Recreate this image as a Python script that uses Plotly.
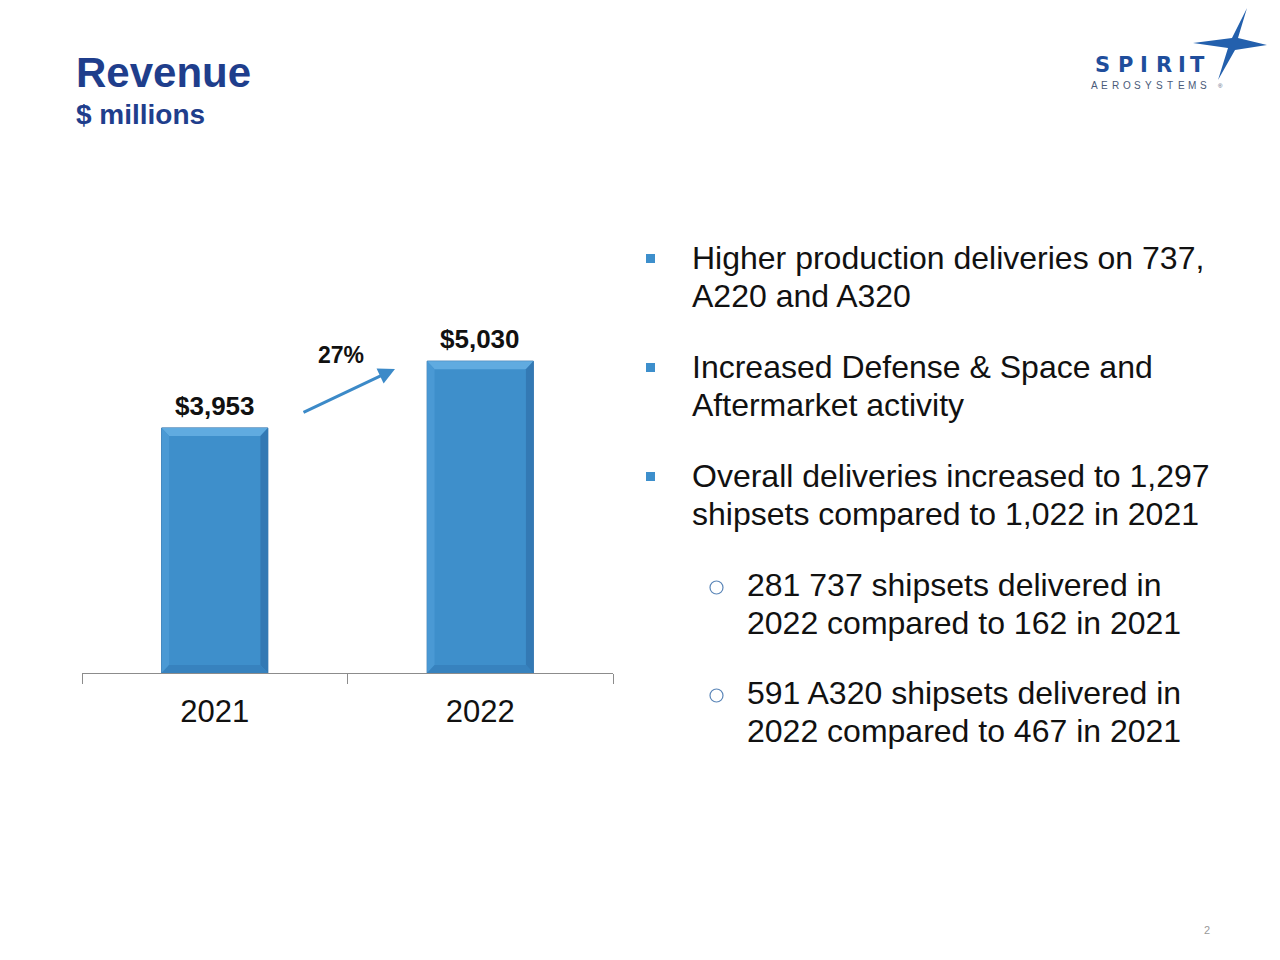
import plotly.graph_objects as go

# ---- data ----
years = ["2021", "2022"]
revenue = [3953, 5030]
revenue_labels = ["$3,953", "$5,030"]
growth_label = "27%"
title_text = "Revenue"
subtitle_text = "$ millions"
main_bullets = [
    ["Higher production deliveries on 737,", "A220 and A320"],
    ["Increased Defense & Space and", "Aftermarket activity"],
    ["Overall deliveries increased to 1,297", "shipsets compared to 1,022 in 2021"],
]
sub_bullets = [
    ["281 737 shipsets delivered in", "2022 compared to 162 in 2021"],
    ["591 A320 shipsets delivered in", "2022 compared to 467 in 2021"],
]
logo_word = "SPIRIT"
logo_sub = "AEROSYSTEMS"
page_number = "2"

# ---- layout geometry (page pixels of the reference) ----
PAGE_OFF = 8                      # default body margin of the html page
W, H = 1280 - 2 * PAGE_OFF, 960 - 2 * PAGE_OFF
L, R, T, B = 82, 613, 301, 673    # plot area in page pixels
FONT = "Liberation Sans, Arial, sans-serif"
TITLE_BLUE = "#1F3E8C"
BAR_BLUE = "#3E8FCB"
YMAX = 6000


def px(x):
    return (x - L) / (R - L)


def py(y):
    return (B - y) / (B - T)


def text_ann(x, y, text, size, color="#111111", xanchor="center", bold=False, family=FONT):
    return dict(x=px(x), y=py(y), xref="paper", yref="paper",
                text=("<b>%s</b>" % text) if bold else text, showarrow=False,
                xanchor=xanchor, yanchor="middle",
                font=dict(family=family, size=size, color=color))


fig = go.Figure()
xs = list(range(len(years)))
BAR_W = 0.4
fig.add_trace(go.Bar(
    x=xs, y=revenue, width=BAR_W,
    marker=dict(color=BAR_BLUE, line=dict(color="#3273AC", width=1)),
    hoverinfo="skip",
))

annotations = []
shapes = []

# bevel decoration on each bar (derived from the data values)
bw = 0.028                      # bevel width in category units
bh = 8 / ((B - T) / YMAX)       # ~8 px in data units
for i, v in zip(xs, revenue):
    x0, x1 = i - BAR_W / 2, i + BAR_W / 2
    polys = [
        ([(x0, v), (x1, v), (x1 - bw, v - bh), (x0 + bw, v - bh)], "#60ABE0"),
        ([(x0, v), (x0 + bw, v - bh), (x0 + bw, bh), (x0, 0)], "#4A99D4"),
        ([(x1, v), (x1 - bw, v - bh), (x1 - bw, bh), (x1, 0)], "#3379B4"),
        ([(x0, 0), (x1, 0), (x1 - bw, bh), (x0 + bw, bh)], "#3782BE"),
    ]
    for pts, col in polys:
        path = "M " + " L ".join("%.4f,%.4f" % p for p in pts) + " Z"
        shapes.append(dict(type="path", xref="x", yref="y", path=path,
                           fillcolor=col, line=dict(width=0), layer="above"))
    annotations.append(dict(x=i, y=v, xref="x", yref="y",
                            text="<b>%s</b>" % revenue_labels[i],
                            showarrow=False, xanchor="center", yanchor="middle", yshift=22,
                            font=dict(family=FONT, size=26, color="#111111")))

# growth arrow
annotations.append(dict(x=px(395), y=py(369), xref="paper", yref="paper", text="",
                        showarrow=True, ax=-93, ay=44, arrowhead=2, arrowsize=1.1,
                        arrowwidth=3, arrowcolor="#3C8AC8"))
annotations.append(text_ann(341, 355, growth_label, 23, bold=True))

# title
annotations.append(text_ann(74, 72, title_text, 42, TITLE_BLUE, "left", True))
annotations.append(text_ann(74, 114, subtitle_text, 28, TITLE_BLUE, "left", True))

# main bullets
main_y = [258, 367, 476]
for lines, y0 in zip(main_bullets, main_y):
    shapes.append(dict(type="rect", xref="paper", yref="paper",
                       x0=px(646), x1=px(655), y0=py(y0 - 4), y1=py(y0 + 5),
                       fillcolor="#3D8FCC", line=dict(width=0)))
    for i, ln in enumerate(lines):
        annotations.append(text_ann(690, y0 + 38 * i, ln, 32, xanchor="left"))
# sub bullets
sub_y = [585, 693]
for lines, y0 in zip(sub_bullets, sub_y):
    shapes.append(dict(type="circle", xref="paper", yref="paper",
                       x0=px(710), x1=px(723), y0=py(y0 + 9), y1=py(y0 - 4),
                       line=dict(color="#5B86B8", width=1.2)))
    for i, ln in enumerate(lines):
        annotations.append(text_ann(745, y0 + 38 * i, ln, 32, xanchor="left"))

# logo
logo_x = [1102, 1125, 1144, 1164, 1182, 1197]
for ch, lx in zip(logo_word, logo_x):
    annotations.append(text_ann(lx, 65, ch, 21, "#1F4E9C", bold=True,
                                family="DejaVu Sans, sans-serif"))
for k, ch in enumerate(logo_sub):
    annotations.append(text_ann(1094 + k * 10.9, 85, ch, 10, "#4A5A78"))
annotations.append(text_ann(1220, 86, "®", 6, "#4A5A78"))
star = [(1247, 8), (1232, 38), (1193, 43), (1228, 48), (1218, 80), (1235, 50),
        (1267, 45), (1238, 38)]
path = "M " + " L ".join("%.4f,%.4f" % (px(a), py(b)) for a, b in star) + " Z"
shapes.append(dict(type="path", xref="paper", yref="paper", path=path,
                   fillcolor="#2360AD", line=dict(width=0)))

annotations.append(text_ann(1207, 930, page_number, 11, "#9A9A9A"))

fig.update_layout(
    width=W, height=H,
    margin=dict(l=L - PAGE_OFF, r=W - (R - PAGE_OFF), t=T - PAGE_OFF,
                b=H - (B - PAGE_OFF), pad=0),
    paper_bgcolor="white", plot_bgcolor="white",
    showlegend=False,
    xaxis=dict(type="linear", range=[-0.5, 1.5], tickmode="array", tickvals=xs,
               ticktext=years, showline=True, linecolor="#8C8C8C", linewidth=1.2,
               ticks="", showgrid=False, zeroline=False, ticklabelstandoff=11,
               tickfont=dict(family=FONT, size=31, color="#111111")),
    yaxis=dict(range=[0, YMAX], visible=False, showgrid=False, zeroline=False),
    annotations=annotations, shapes=shapes,
)
# boundary ticks drawn as minor ticks between categories
fig.update_xaxes(minor=dict(tickmode="array", tickvals=[-0.5, 0.5, 1.5], ticks="outside",
                            ticklen=10, tickcolor="#8C8C8C", tickwidth=1.2, showgrid=False))

fig.write_html("out.html")
